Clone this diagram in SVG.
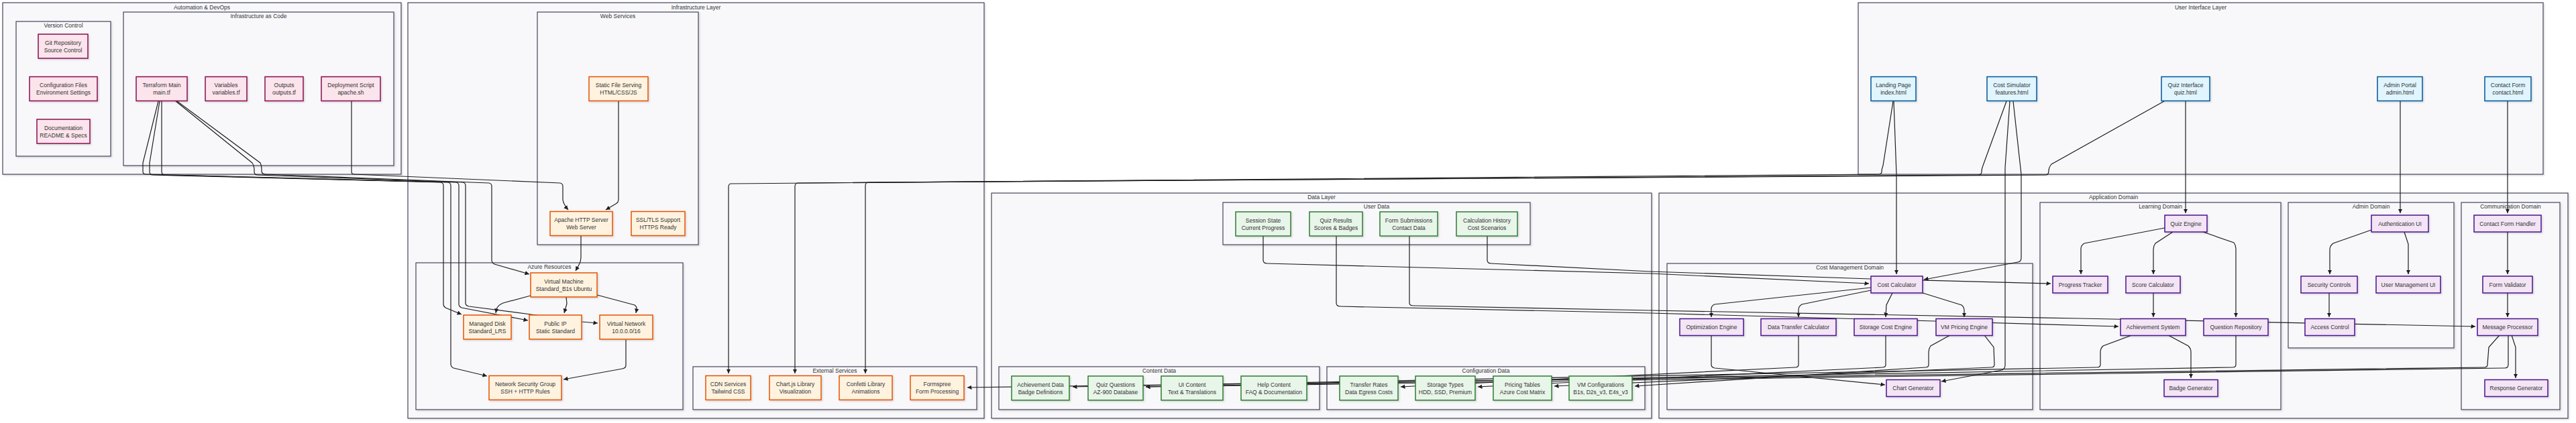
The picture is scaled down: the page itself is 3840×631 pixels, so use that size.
<svg xmlns="http://www.w3.org/2000/svg" width="3840" height="631" viewBox="0 0 3840 631">
<defs>
<style>
.cl{fill:#f8f8fb;stroke:#45455a;stroke-width:1.2;filter:url(#sh)}
.ct{font-family:"Liberation Sans",Arial,sans-serif;font-size:8.5px;fill:#333;text-anchor:middle}
.nt{font-family:"Liberation Sans",Arial,sans-serif;font-size:8.5px;fill:#333;text-anchor:middle}
.n rect{stroke-width:1.5;filter:url(#sh)}
.pk rect{fill:#fce4ec;stroke:#880e4f}
.or rect{fill:#fff3e0;stroke:#e65100}
.gr rect{fill:#e8f5e9;stroke:#2e7d32}
.pu rect{fill:#f3e5f5;stroke:#4a148c}
.bl rect{fill:#e1f5fe;stroke:#01579b}
.e path{fill:none;stroke:#1e1e1e;stroke-width:1.2;marker-end:url(#ah)}
</style>
<filter id="sh" x="-10%" y="-10%" width="130%" height="140%">
<feDropShadow dx="1.5" dy="1.5" stdDeviation="0.8" flood-color="#000" flood-opacity="0.14"/>
</filter>
<marker id="ah" viewBox="0 0 10 10" refX="10" refY="5" markerWidth="6.5" markerHeight="6.5" markerUnits="userSpaceOnUse" orient="auto">
<path d="M0,0 L10,5 L0,10 z" fill="#1e1e1e"/>
</marker>
</defs>
<rect width="3840" height="631" fill="#ffffff"/>

<g id="clusters">
<g id="c-automation"><rect class="cl" x="4" y="4" width="594" height="256"/><text class="ct" x="301" y="13.5">Automation &amp; DevOps</text></g>
<g id="c-version"><rect class="cl" x="24" y="32" width="141" height="201"/><text class="ct" x="94.5" y="41">Version Control</text></g>
<g id="c-iac"><rect class="cl" x="184" y="18" width="403" height="229"/><text class="ct" x="385.5" y="27">Infrastructure as Code</text></g>
<g id="c-infra"><rect class="cl" x="608" y="4" width="859" height="620"/><text class="ct" x="1037.5" y="13.5">Infrastructure Layer</text></g>
<g id="c-web"><rect class="cl" x="801" y="18" width="240" height="347"/><text class="ct" x="921" y="27">Web Services</text></g>
<g id="c-azure"><rect class="cl" x="620" y="392" width="398" height="219"/><text class="ct" x="819" y="401">Azure Resources</text></g>
<g id="c-ext"><rect class="cl" x="1033" y="547" width="423" height="64"/><text class="ct" x="1244.5" y="556">External Services</text></g>
<g id="c-ui"><rect class="cl" x="2770" y="4" width="1021" height="256"/><text class="ct" x="3280.5" y="13.5">User Interface Layer</text></g>
<g id="c-data"><rect class="cl" x="1478" y="288" width="984" height="336"/><text class="ct" x="1970" y="297">Data Layer</text></g>
<g id="c-user"><rect class="cl" x="1823" y="302" width="458" height="63"/><text class="ct" x="2052" y="311">User Data</text></g>
<g id="c-content"><rect class="cl" x="1489" y="547" width="478" height="64"/><text class="ct" x="1728" y="556">Content Data</text></g>
<g id="c-config"><rect class="cl" x="1978" y="547" width="474" height="64"/><text class="ct" x="2215" y="556">Configuration Data</text></g>
<g id="c-app"><rect class="cl" x="2473" y="288" width="1355" height="336"/><text class="ct" x="3150.5" y="297">Application Domain</text></g>
<g id="c-cost"><rect class="cl" x="2485" y="393" width="545" height="218"/><text class="ct" x="2757.5" y="402">Cost Management Domain</text></g>
<g id="c-learn"><rect class="cl" x="3041" y="302" width="359" height="309"/><text class="ct" x="3220.5" y="311">Learning Domain</text></g>
<g id="c-admin"><rect class="cl" x="3411" y="302" width="247" height="217"/><text class="ct" x="3534.5" y="311">Admin Domain</text></g>
<g id="c-comm"><rect class="cl" x="3669" y="302" width="147" height="309"/><text class="ct" x="3742.5" y="311">Communication Domain</text></g>
</g>

<g id="connectors" class="e">
<path d="M236,151 L213,243 Q213,247 213,252 L213,256 Q213,260 218,260 L657,272 Q661,273 661,277 L661,454 Q661,457 664,459 L688,469"/>
<path d="M238,151 L223,243 Q223,247 223,252 L223,256 Q223,261 228,261 L668,272 Q672,273 672,277 L672,543 Q672,547 676,549 L726,561"/>
<path d="M241,151 L241,256 Q241,261 246,261 L680,272 Q684,273 684,277 L684,454 Q684,457 688,459 L787,478"/>
<path d="M262,151 L376,243 Q379,247 379,252 L379,256 Q379,261 384,261 L690,272 Q694,273 694,277 L694,452 Q694,456 699,457 L799,470 L867,480 L891,482"/>
<path d="M264,151 L388,243 Q390,247 390,252 L390,256 Q391,260 396,260 L729,273 Q733,274 733,278 L733,388 Q733,392 737,394 L789,409"/>
<path d="M524,151 L524,256 Q524,260 528,260 L835,273 Q839,274 839,278 L839,298 Q840,305 847,313"/>
<path d="M922,151 L922,297 Q922,302 918,304 L903,313"/>
<path d="M866,352 L866,384 Q866,390 863,395 L858,404"/>
<path d="M791,441 L750,452 Q741,456 740,462 L739,467"/>
<path d="M844,443 L845,453 L841,467"/>
<path d="M890,440 L946,455 Q950,458 949,462 L948,467"/>
<path d="M933,507 L933,545 Q933,549 928,550 L840,566"/>
<path d="M2822,151 L2807,247 Q2805,252 2805,256 Q2805,260 2800,260 L1090,274 Q1086,274 1086,279 L1086,557"/>
<path d="M2991,151 L2956,247 Q2954,252 2954,256 Q2954,261 2949,261 L1190,273 Q1185,273 1185,278 L1185,557"/>
<path d="M3226,151 L3058,245 Q3054,250 3054,255 Q3054,261 3049,261 L1295,272 Q1290,272 1290,277 L1290,557"/>
<path d="M2823,151 L2827,260 L2827,409"/>
<path d="M2996,151 L2989,250 L2989,545 Q2989,550 2984,552 L2894,569"/>
<path d="M3001,151 L3013,260 L3013,385 Q3013,390 3008,391 L2868,417"/>
<path d="M3258,151 L3258,318"/>
<path d="M3578,151 L3578,318"/>
<path d="M3738,151 L3738,318"/>
<path d="M3227,340 L3107,363 Q3102,366 3102,371 L3102,409"/>
<path d="M3239,346 L3213,363 Q3210,367 3210,372 L3210,409"/>
<path d="M3284,346 L3330,362 Q3333,366 3333,371 L3333,473"/>
<path d="M3210,437 L3210,473"/>
<path d="M3232,500 L3262,516 Q3266,520 3266,525 L3266,564"/>
<path d="M3535,343 L3478,363 Q3473,367 3473,372 L3473,409"/>
<path d="M3584,346 L3590,364 L3590,409"/>
<path d="M3472,437 L3472,473"/>
<path d="M3738,346 L3738,409"/>
<path d="M3738,437 L3738,473"/>
<path d="M3744,500 L3750,518 L3750,564"/>
<path d="M2789,429 L2556,454 Q2551,456 2551,461 L2551,473"/>
<path d="M2789,433 L2686,454 Q2681,457 2681,462 L2681,473"/>
<path d="M2821,437 L2812,455 L2811,473"/>
<path d="M2866,437 L2924,455 Q2928,458 2928,463 L2928,473"/>
<path d="M2551,500 L2551,544 Q2551,548 2556,549 L2810,574"/>
<path d="M1883,352 L1883,388 Q1883,393 1889,393 L2460,408 L2786,423"/>
<path d="M2217,352 L2217,388 Q2217,393 2223,393 L2460,405 L2788,416 L3057,423"/>
<path d="M1992,352 L1992,452 Q1992,457 1998,457 L2460,467 L2884,479 L3158,487"/>
<path d="M2101,352 L2101,452 Q2101,456 2107,456 L2460,463 L3100,475 L3690,487"/>
<path d="M2681,500 L2681,544 Q2681,548 2676,548 L2088,577"/>
<path d="M2811,500 L2811,544 Q2811,548 2806,548 L2203,577"/>
<path d="M2907,500 L2878,516 Q2875,520 2875,525 L2875,544 Q2875,548 2870,548 L2437,576"/>
<path d="M2958,500 L2972,518 L2973,544 Q2973,548 2968,548 L2317,576"/>
<path d="M3178,500 L3135,516 Q3131,520 3131,525 L3131,544 Q3131,548 3126,548 L1599,577"/>
<path d="M3333,500 L3333,544 Q3333,548 3328,548 L1708,577"/>
<path d="M3726,500 L3710,518 L3708,544 Q3708,548 3703,548 L1442,578"/>
<path d="M3739,500 L3739,544 Q3739,549 3734,549 L1708,577"/>
</g>

<g id="n-git" class="n pk"><rect x="57" y="51" width="74" height="36"/><text class="nt" x="94" y="66.5">Git Repository<tspan x="94" dy="11">Source Control</tspan></text></g>
<g id="n-config" class="n pk"><rect x="44" y="114.5" width="101" height="36"/><text class="nt" x="94.5" y="130">Configuration Files<tspan x="94.5" dy="11">Environment Settings</tspan></text></g>
<g id="n-docs" class="n pk"><rect x="55" y="178" width="79" height="36"/><text class="nt" x="94.5" y="193.5">Documentation<tspan x="94.5" dy="11">README &amp; Specs</tspan></text></g>
<g id="n-tfmain" class="n pk"><rect x="203" y="114.5" width="76" height="36"/><text class="nt" x="241" y="130">Terraform Main<tspan x="241" dy="11">main.tf</tspan></text></g>
<g id="n-tfvars" class="n pk"><rect x="306" y="114.5" width="62" height="36"/><text class="nt" x="337" y="130">Variables<tspan x="337" dy="11">variables.tf</tspan></text></g>
<g id="n-tfout" class="n pk"><rect x="395" y="114.5" width="57" height="36"/><text class="nt" x="423.5" y="130">Outputs<tspan x="423.5" dy="11">outputs.tf</tspan></text></g>
<g id="n-deploy" class="n pk"><rect x="479" y="114.5" width="88" height="36"/><text class="nt" x="523" y="130">Deployment Script<tspan x="523" dy="11">apache.sh</tspan></text></g>

<g id="n-static" class="n or"><rect x="878" y="114.5" width="88" height="36"/><text class="nt" x="922" y="130">Static File Serving<tspan x="922" dy="11">HTML/CSS/JS</tspan></text></g>
<g id="n-apache" class="n or"><rect x="820" y="315.5" width="93" height="36"/><text class="nt" x="866.5" y="331">Apache HTTP Server<tspan x="866.5" dy="11">Web Server</tspan></text></g>
<g id="n-ssl" class="n or"><rect x="941" y="315.5" width="80" height="36"/><text class="nt" x="981" y="331">SSL/TLS Support<tspan x="981" dy="11">HTTPS Ready</tspan></text></g>
<g id="n-vm" class="n or"><rect x="791" y="407" width="99" height="36"/><text class="nt" x="840.5" y="422.5">Virtual Machine<tspan x="840.5" dy="11">Standard_B1s Ubuntu</tspan></text></g>
<g id="n-disk" class="n or"><rect x="691" y="470" width="71" height="36"/><text class="nt" x="726.5" y="485.5">Managed Disk<tspan x="726.5" dy="11">Standard_LRS</tspan></text></g>
<g id="n-pip" class="n or"><rect x="789" y="470" width="78" height="36"/><text class="nt" x="828" y="485.5">Public IP<tspan x="828" dy="11">Static Standard</tspan></text></g>
<g id="n-vnet" class="n or"><rect x="894" y="470" width="79" height="36"/><text class="nt" x="933.5" y="485.5">Virtual Network<tspan x="933.5" dy="11">10.0.0.0/16</tspan></text></g>
<g id="n-nsg" class="n or"><rect x="729" y="560.5" width="108" height="36"/><text class="nt" x="783" y="576">Network Security Group<tspan x="783" dy="11">SSH + HTTP Rules</tspan></text></g>
<g id="n-cdn" class="n or"><rect x="1052" y="560.5" width="67" height="36"/><text class="nt" x="1085.5" y="576">CDN Services<tspan x="1085.5" dy="11">Tailwind CSS</tspan></text></g>
<g id="n-chartjs" class="n or"><rect x="1147" y="560.5" width="77" height="36"/><text class="nt" x="1185.5" y="576">Chart.js Library<tspan x="1185.5" dy="11">Visualization</tspan></text></g>
<g id="n-confetti" class="n or"><rect x="1251" y="560.5" width="79" height="36"/><text class="nt" x="1290.5" y="576">Confetti Library<tspan x="1290.5" dy="11">Animations</tspan></text></g>
<g id="n-formspree" class="n or"><rect x="1357" y="560.5" width="80" height="36"/><text class="nt" x="1397" y="576">Formspree<tspan x="1397" dy="11">Form Processing</tspan></text></g>

<g id="n-session" class="n gr"><rect x="1842" y="316" width="82" height="36"/><text class="nt" x="1883" y="331.5">Session State<tspan x="1883" dy="11">Current Progress</tspan></text></g>
<g id="n-quizres" class="n gr"><rect x="1952" y="316" width="79" height="36"/><text class="nt" x="1991.5" y="331.5">Quiz Results<tspan x="1991.5" dy="11">Scores &amp; Badges</tspan></text></g>
<g id="n-formsub" class="n gr"><rect x="2057" y="316" width="86" height="36"/><text class="nt" x="2100" y="331.5">Form Submissions<tspan x="2100" dy="11">Contact Data</tspan></text></g>
<g id="n-calchist" class="n gr"><rect x="2171" y="316" width="91" height="36"/><text class="nt" x="2216.5" y="331.5">Calculation History<tspan x="2216.5" dy="11">Cost Scenarios</tspan></text></g>
<g id="n-achdata" class="n gr"><rect x="1508" y="561" width="86" height="36"/><text class="nt" x="1551" y="576.5">Achievement Data<tspan x="1551" dy="11">Badge Definitions</tspan></text></g>
<g id="n-quizq" class="n gr"><rect x="1622" y="561" width="82" height="36"/><text class="nt" x="1663" y="576.5">Quiz Questions<tspan x="1663" dy="11">AZ-900 Database</tspan></text></g>
<g id="n-uicontent" class="n gr"><rect x="1731" y="561" width="92" height="36"/><text class="nt" x="1777" y="576.5">UI Content<tspan x="1777" dy="11">Text &amp; Translations</tspan></text></g>
<g id="n-help" class="n gr"><rect x="1850" y="561" width="98" height="36"/><text class="nt" x="1899" y="576.5">Help Content<tspan x="1899" dy="11">FAQ &amp; Documentation</tspan></text></g>
<g id="n-transfer" class="n gr"><rect x="1997" y="561" width="87" height="36"/><text class="nt" x="2040.5" y="576.5">Transfer Rates<tspan x="2040.5" dy="11">Data Egress Costs</tspan></text></g>
<g id="n-storage" class="n gr"><rect x="2110" y="561" width="89" height="36"/><text class="nt" x="2154.5" y="576.5">Storage Types<tspan x="2154.5" dy="11">HDD, SSD, Premium</tspan></text></g>
<g id="n-pricing" class="n gr"><rect x="2226" y="561" width="87" height="36"/><text class="nt" x="2269.5" y="576.5">Pricing Tables<tspan x="2269.5" dy="11">Azure Cost Matrix</tspan></text></g>
<g id="n-vmconf" class="n gr"><rect x="2339" y="561" width="94" height="36"/><text class="nt" x="2386" y="576.5">VM Configurations<tspan x="2386" dy="11">B1s, D2s_v3, E4s_v3</tspan></text></g>

<g id="n-landing" class="n bl"><rect x="2789" y="114.5" width="67" height="36"/><text class="nt" x="2822.5" y="130">Landing Page<tspan x="2822.5" dy="11">index.html</tspan></text></g>
<g id="n-costsim" class="n bl"><rect x="2962" y="114.5" width="74" height="36"/><text class="nt" x="2999" y="130">Cost Simulator<tspan x="2999" dy="11">features.html</tspan></text></g>
<g id="n-quizui" class="n bl"><rect x="3222" y="114.5" width="72" height="36"/><text class="nt" x="3258" y="130">Quiz Interface<tspan x="3258" dy="11">quiz.html</tspan></text></g>
<g id="n-adminui" class="n bl"><rect x="3544" y="114.5" width="67" height="36"/><text class="nt" x="3577.5" y="130">Admin Portal<tspan x="3577.5" dy="11">admin.html</tspan></text></g>
<g id="n-contactui" class="n bl"><rect x="3704" y="114.5" width="69" height="36"/><text class="nt" x="3738.5" y="130">Contact Form<tspan x="3738.5" dy="11">contact.html</tspan></text></g>

<g id="n-costcalc" class="n pu"><rect x="2789" y="412" width="77" height="25"/><text class="nt" x="2827.5" y="427.5">Cost Calculator</text></g>
<g id="n-optim" class="n pu"><rect x="2504" y="475.5" width="95" height="25"/><text class="nt" x="2551.5" y="491">Optimization Engine</text></g>
<g id="n-dtcalc" class="n pu"><rect x="2625" y="475.5" width="112" height="25"/><text class="nt" x="2681" y="491">Data Transfer Calculator</text></g>
<g id="n-storeng" class="n pu"><rect x="2764" y="475.5" width="94" height="25"/><text class="nt" x="2811" y="491">Storage Cost Engine</text></g>
<g id="n-vmprice" class="n pu"><rect x="2886" y="475.5" width="84" height="25"/><text class="nt" x="2928" y="491">VM Pricing Engine</text></g>
<g id="n-chartgen" class="n pu"><rect x="2812" y="566.5" width="80" height="25"/><text class="nt" x="2852" y="582">Chart Generator</text></g>
<g id="n-quizeng" class="n pu"><rect x="3227" y="321" width="63" height="25"/><text class="nt" x="3258.5" y="336.5">Quiz Engine</text></g>
<g id="n-progress" class="n pu"><rect x="3060" y="412" width="82" height="25"/><text class="nt" x="3101" y="427.5">Progress Tracker</text></g>
<g id="n-score" class="n pu"><rect x="3169" y="412" width="81" height="25"/><text class="nt" x="3209.5" y="427.5">Score Calculator</text></g>
<g id="n-achsys" class="n pu"><rect x="3161" y="475.5" width="97" height="25"/><text class="nt" x="3209.5" y="491">Achievement System</text></g>
<g id="n-qrepo" class="n pu"><rect x="3285" y="475.5" width="96" height="25"/><text class="nt" x="3333" y="491">Question Repository</text></g>
<g id="n-badge" class="n pu"><rect x="3226" y="566.5" width="80" height="25"/><text class="nt" x="3266" y="582">Badge Generator</text></g>
<g id="n-auth" class="n pu"><rect x="3535" y="321" width="85" height="25"/><text class="nt" x="3577.5" y="336.5">Authentication UI</text></g>
<g id="n-security" class="n pu"><rect x="3430" y="412" width="84" height="25"/><text class="nt" x="3472" y="427.5">Security Controls</text></g>
<g id="n-usermgmt" class="n pu"><rect x="3542" y="412" width="96" height="25"/><text class="nt" x="3590" y="427.5">User Management UI</text></g>
<g id="n-access" class="n pu"><rect x="3436" y="475.5" width="74" height="25"/><text class="nt" x="3473" y="491">Access Control</text></g>
<g id="n-cfh" class="n pu"><rect x="3688" y="321" width="100" height="25"/><text class="nt" x="3738" y="336.5">Contact Form Handler</text></g>
<g id="n-formval" class="n pu"><rect x="3701" y="412" width="74" height="25"/><text class="nt" x="3738" y="427.5">Form Validator</text></g>
<g id="n-msgproc" class="n pu"><rect x="3693" y="475.5" width="90" height="25"/><text class="nt" x="3738" y="491">Message Processor</text></g>
<g id="n-respgen" class="n pu"><rect x="3704" y="566.5" width="94" height="25"/><text class="nt" x="3751" y="582">Response Generator</text></g>
</svg>
